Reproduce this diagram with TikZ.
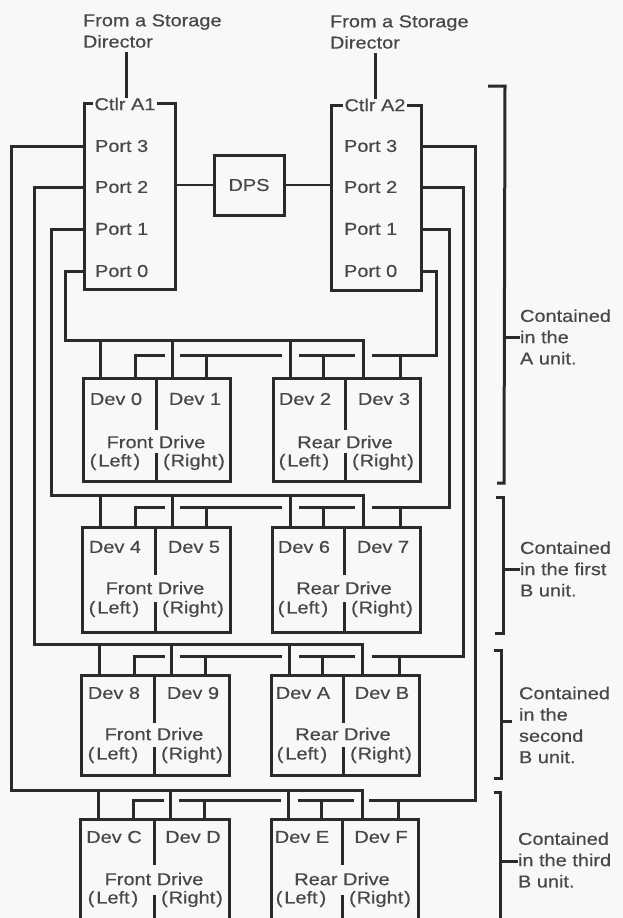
\documentclass[tikz,border=0pt]{standalone}
\usepackage{fontspec}
\setmainfont[FakeStretch=1.16,FakeBold=0.5]{Liberation Sans}
\definecolor{ink}{HTML}{2A2A2A}
\definecolor{txt}{HTML}{484848}
\definecolor{paper}{HTML}{F8F8F8}
\tikzset{
  wire/.style={line width=3pt,draw=ink,line join=miter},
  box/.style={draw=ink,line width=3pt,inner sep=0pt,outer sep=0pt,anchor=north west},
  lab/.style={text=txt,inner sep=0pt,outer sep=0pt,font=\fontsize{17.2}{21.3}\selectfont},
  note/.style={lab,align=left,anchor=west},
}
% set per row: \rowtop \rowbot \rowdev \rowdrv \rowlr \rowga \rowgb
\newcommand{\drivebox}[7]{%
  \node[box,minimum width={(#3-#2)*1pt},minimum height={(\rowbot-\rowtop)*1pt}] (#1) at (#2,\rowtop) {};
  \node[lab] (#1dl) at (#4-40,\rowdev) {#5};
  \node[lab] (#1dr) at (#4+39,\rowdev) {#6};
  \node[lab] (#1nm) at (#4,\rowdrv) {#7};
  \node[lab] (#1ll) at (#4-41,\rowlr) {(\kern2pt Left\kern2pt)};
  \node[lab] (#1rr) at (#4+38,\rowlr) {(\kern1pt Right\kern1pt)};
  \coordinate (#1da) at (#4,\rowtop);
  \coordinate (#1db) at (#4,\rowga);
  \coordinate (#1dc) at (#4,\rowgb);
  \draw[wire] (#1da) -- (#1db);
  \draw[wire] (#1dc) -- (#1dc |- #1.south);
}
% #1 front, #2 rear, #3 upper y, #4 lower y, #5 dx
\newcommand{\busrow}[5]{%
  \foreach \tx in {100,172}{
    \coordinate (tap) at (\tx+#5,#3);
    \draw[wire] (tap) -- (tap |- #1.north);
  }
  \coordinate (tap) at (290+#5,#3);
  \draw[wire] (tap) -- (tap |- #2.north);
  \coordinate (sb) at (135+#5,#4);
  \coordinate (sc) at (165+#5,#4);
  \draw[wire] (sb |- #1.north) -- (sb) -- (sc);
  \coordinate (sd) at (180+#5,#4);
  \coordinate (se) at (282+#5,#4);
  \draw[wire] (sd) -- (se);
  \coordinate (tap) at (206+#5,#4);
  \draw[wire] (tap) -- (tap |- #1.north);
  \coordinate (sf) at (299+#5,#4);
  \coordinate (sg) at (355+#5,#4);
  \draw[wire] (sf) -- (sg);
  \coordinate (tap) at (323+#5,#4);
  \draw[wire] (tap) -- (tap |- #2.north);
  \coordinate (tap) at (400+#5,#4);
  \draw[wire] (tap) -- (tap |- #2.north);
}
\begin{document}
\begin{tikzpicture}[x=1pt,y=-1pt]
\fill[paper] (0,0) rectangle (623,918);
\useasboundingbox (0,0) rectangle (623,918);
\clip (0,0) rectangle (623,918);

% Controllers
\node[box,minimum width=91pt,minimum height=186pt] (A1) at (84,103) {};
\node[box,minimum width=90pt,minimum height=185pt] (A2) at (331,105) {};
\node[box,minimum width=70pt,minimum height=60pt] (DPS) at (214,155) {};
\node[lab] at (DPS.center) {DPS};
\node[lab,fill=paper,inner xsep=1.5pt,anchor=west] (t1) at (93,104) {Ctlr A1};
\node[lab,fill=paper,inner xsep=1.5pt,anchor=west] (t2) at (343,105) {Ctlr A2};
\foreach \n/\y in {3/146,2/187,1/229,0/271}{
  \node[lab,anchor=west] (p1\n) at (95,\y) {Port \n};
  \node[lab,anchor=west] (p2\n) at (344,\y) {Port \n};
}
\node[note] (s1) at (83,31) {From a Storage\\Director};
\node[note] (s2) at (330,32) {From a Storage\\Director};
\coordinate (c1) at (126,52);
\coordinate (c2) at (375,53);
\draw[wire] (c1) -- (c1 |- t1.north);
\draw[wire] (c2) -- (c2 |- t2.north);
\draw[wire,line width=2.2pt] (A1.east |- DPS.west) -- (DPS.west);
\draw[wire,line width=2.2pt] (DPS.east) -- (A2.west |- DPS.east);

% Drives
\def\rowtop{378}\def\rowbot{481}\def\rowdev{399}\def\rowdrv{442}\def\rowlr{462}\def\rowga{430}\def\rowgb{453}
\drivebox{fa}{83}{230}{156}{Dev 0}{Dev 1}{Front Drive}
\drivebox{ra}{273}{420}{345}{Dev 2}{Dev 3}{Rear Drive}
\def\rowtop{527}\def\rowbot{632}\def\rowdev{547}\def\rowdrv{588}\def\rowlr{609}\def\rowga{575}\def\rowgb{602}
\drivebox{fb}{82}{230}{155}{Dev 4}{Dev 5}{Front Drive}
\drivebox{rb}{272}{420}{344}{Dev 6}{Dev 7}{Rear Drive}
\def\rowtop{675}\def\rowbot{775}\def\rowdev{693}\def\rowdrv{734}\def\rowlr{755}\def\rowga{723}\def\rowgb{747}
\drivebox{fc}{81}{229}{154}{Dev 8}{Dev 9}{Front Drive}
\drivebox{rc}{271}{419}{343}{Dev A}{Dev B}{Rear Drive}
\def\rowtop{819}\def\rowbot{930}\def\rowdev{837}\def\rowdrv{879}\def\rowlr{899}\def\rowga{865}\def\rowgb{895}
\drivebox{fd}{80}{229}{154}{Dev C}{Dev D}{Front Drive}
\drivebox{rd}{271}{418}{342}{Dev E}{Dev F}{Rear Drive}

% Buses
\busrow{fa}{ra}{340}{355}{0}
\busrow{fb}{rb}{495}{507}{0}
\busrow{fc}{rc}{644}{656}{-0.5}
\busrow{fd}{rd}{790}{800}{-1.5}

% Left port cables (upper buses)
\coordinate (la) at (65,340); \coordinate (ea) at (363,340);
\coordinate (lb) at (51,495); \coordinate (eb) at (363,495);
\coordinate (lc) at (34,644); \coordinate (ec) at (362,644);
\coordinate (ld) at (11,790); \coordinate (ed) at (362,790);
\draw[wire] (A1.west |- p10) -| (la) -- (ea) -- (ea |- ra.north);
\draw[wire] (A1.west |- p11) -| (lb) -- (eb) -- (eb |- rb.north);
\draw[wire] (A1.west |- p12) -| (lc) -- (ec) -- (ec |- rc.north);
\draw[wire] (A1.west |- p13) -| (ld) -- (ed) -- (ed |- rd.north);

% Right port cables (lower buses)
\coordinate (ra1) at (436,355); \coordinate (rea) at (372,355);
\coordinate (rb1) at (449,507); \coordinate (reb) at (372,507);
\coordinate (rc1) at (463,656); \coordinate (rec) at (372,656);
\coordinate (rd1) at (475,800); \coordinate (red) at (369,800);
\draw[wire] (A2.east |- p20) -| (ra1) -- (rea);
\draw[wire] (A2.east |- p21) -| (rb1) -- (reb);
\draw[wire] (A2.east |- p22) -| (rc1) -- (rec);
\draw[wire] (A2.east |- p23) -| (rd1) -- (red);

% Brackets
\coordinate (ba0) at (488,86); \coordinate (ba1) at (505,86); \coordinate (ba2) at (504,483); \coordinate (ba3) at (497,483);
\draw[wire] (ba0) -- (ba1) -- (ba2) -- (ba3);
\coordinate (bb0) at (496,497); \coordinate (bb1) at (503,497); \coordinate (bb2) at (503,633); \coordinate (bb3) at (495,633);
\draw[wire] (bb0) -- (bb1) -- (bb2) -- (bb3);
\coordinate (bc0) at (494,650); \coordinate (bc1) at (501,650); \coordinate (bc2) at (501,778); \coordinate (bc3) at (494,778);
\draw[wire] (bc0) -- (bc1) -- (bc2) -- (bc3);
\coordinate (bd0) at (494,792); \coordinate (bd1) at (500,792); \coordinate (bd2) at (500,925);
\draw[wire] (bd0) -- (bd1) -- (bd2);

\node[note] (na) at (520,337) {Contained\\in the\\A unit.};
\node[note] (nb) at (520,569) {Contained\\in the first\\B unit.};
\node[note] (nc) at (519,725) {Contained\\in the\\second\\B unit.};
\node[note] (nd) at (518,860) {Contained\\in the third\\B unit.};
\coordinate (ta) at (505,337); \coordinate (tb) at (503,569); \coordinate (tc) at (501,721); \coordinate (td) at (500,861);
\draw[wire] (ta) -- (ta -| na.west);
\draw[wire] (tb) -- (tb -| nb.west);
\draw[wire] (tc) -- ([xshift=-7pt]tc -| nc.west);
\draw[wire] (td) -- (td -| nd.west);
\end{tikzpicture}
\end{document}
